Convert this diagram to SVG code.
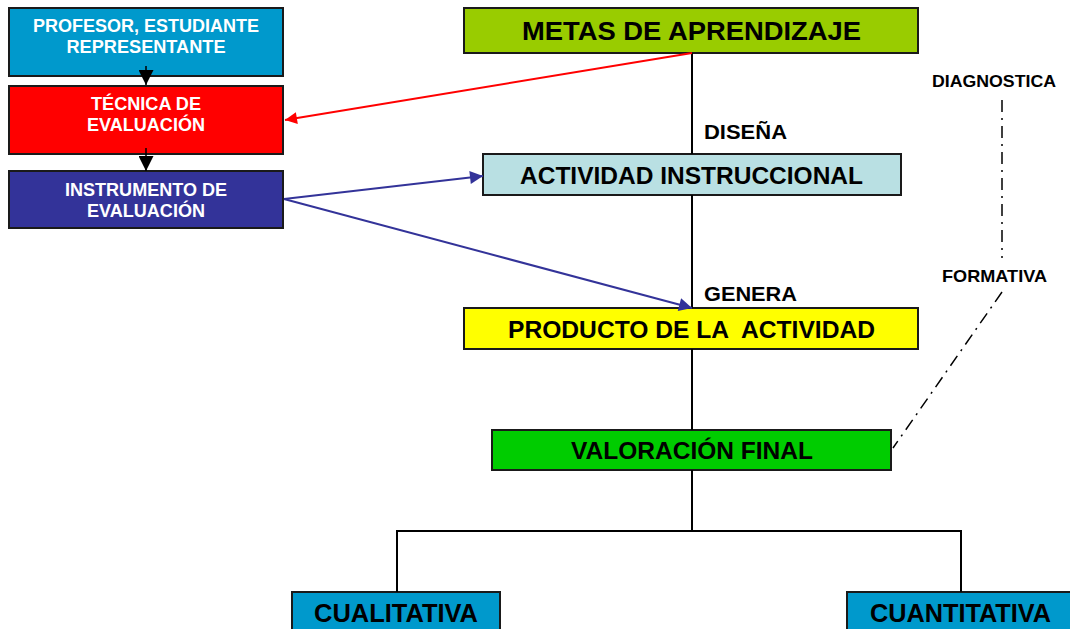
<svg xmlns="http://www.w3.org/2000/svg" width="1070" height="629" viewBox="0 0 1070 629">
<style>
.box{stroke:#1a1a1a;stroke-width:2}
.t{font-family:"Liberation Sans",Arial,sans-serif;font-weight:bold;text-anchor:middle}
.w{fill:#fff;font-size:19px}
.b{fill:#000}
.lbl{font-family:"Liberation Sans",Arial,sans-serif;font-weight:bold;fill:#000}
.ln{stroke:#000;stroke-width:2;fill:none}
.dd{stroke:#000;stroke-width:1.5;fill:none;stroke-dasharray:12,6,2,6}
</style>
<defs>
<marker id="ab" viewBox="0 0 10 10" refX="10" refY="5" markerWidth="15" markerHeight="15" markerUnits="userSpaceOnUse" orient="auto"><path d="M0,0L10,5L0,10z" fill="#000"/></marker>
<marker id="ar" viewBox="0 0 10 10" refX="10" refY="5" markerWidth="16" markerHeight="12" markerUnits="userSpaceOnUse" orient="auto"><path d="M0,0L10,5L0,10z" fill="#ff0000"/></marker>
<marker id="au" viewBox="0 0 10 10" refX="10" refY="5" markerWidth="17" markerHeight="13" markerUnits="userSpaceOnUse" orient="auto"><path d="M0,0L10,5L0,10z" fill="#333399"/></marker>
</defs>
<rect width="1070" height="629" fill="#fff"/>
<g id="profesor"><rect class="box" x="9" y="8" width="274" height="68" fill="#0099cc"/>
<text class="t w" x="146" y="32" textLength="226" lengthAdjust="spacingAndGlyphs">PROFESOR, ESTUDIANTE</text><text class="t w" x="146" y="53" textLength="159" lengthAdjust="spacingAndGlyphs">REPRESENTANTE</text></g>
<g id="tecnica"><rect class="box" x="9" y="86" width="274" height="68" fill="#ff0000"/>
<text class="t w" x="146" y="110" textLength="110" lengthAdjust="spacingAndGlyphs">TÉCNICA DE</text><text class="t w" x="146" y="131" textLength="118" lengthAdjust="spacingAndGlyphs">EVALUACIÓN</text></g>
<g id="instrumento"><rect class="box" x="9" y="171" width="274" height="57" fill="#333399"/>
<text class="t w" x="146" y="196" textLength="162" lengthAdjust="spacingAndGlyphs">INSTRUMENTO DE</text><text class="t w" x="146" y="217" textLength="118" lengthAdjust="spacingAndGlyphs">EVALUACIÓN</text></g>
<g id="metas"><rect class="box" x="464" y="8" width="454" height="45" fill="#99cc00"/>
<text class="t b" x="691.5" y="40" font-size="25.5" textLength="339" lengthAdjust="spacingAndGlyphs">METAS DE APRENDIZAJE</text></g>
<g id="actividad"><rect class="box" x="483" y="154" width="418" height="41" fill="#b9e0e3"/>
<text class="t b" x="691.5" y="184" font-size="24" textLength="343" lengthAdjust="spacingAndGlyphs">ACTIVIDAD INSTRUCCIONAL</text></g>
<g id="producto"><rect class="box" x="464" y="308" width="454" height="41" fill="#ffff00"/>
<text class="t b" x="691.5" y="338" font-size="24" textLength="367" lengthAdjust="spacingAndGlyphs" xml:space="preserve">PRODUCTO DE LA  ACTIVIDAD</text></g>
<g id="valoracion"><rect class="box" x="492" y="430" width="399" height="40" fill="#00cc00"/>
<text class="t b" x="692" y="459" font-size="24" textLength="242" lengthAdjust="spacingAndGlyphs">VALORACIÓN FINAL</text></g>
<g id="cualitativa"><rect class="box" x="292" y="592" width="208" height="45" fill="#0099cc"/>
<text class="t b" x="396" y="622" font-size="25" textLength="164" lengthAdjust="spacingAndGlyphs">CUALITATIVA</text></g>
<g id="cuantitativa"><rect class="box" x="847" y="592" width="230" height="45" fill="#0099cc"/>
<text class="t b" x="960.5" y="622" font-size="25" textLength="181" lengthAdjust="spacingAndGlyphs">CUANTITATIVA</text></g>
<g id="labels">
<text class="lbl" x="704" y="139" font-size="20" textLength="83" lengthAdjust="spacingAndGlyphs">DISEÑA</text>
<text class="lbl" x="704" y="301" font-size="20" textLength="93" lengthAdjust="spacingAndGlyphs">GENERA</text>
<text class="lbl" x="994" y="87" font-size="17" text-anchor="middle" textLength="124" lengthAdjust="spacingAndGlyphs">DIAGNOSTICA</text>
<text class="lbl" x="994.5" y="282" font-size="17" text-anchor="middle" textLength="105" lengthAdjust="spacingAndGlyphs">FORMATIVA</text>
</g>
<g id="connectors">
<line class="ln" x1="692" y1="53" x2="692" y2="154"/>
<line class="ln" x1="692" y1="195" x2="692" y2="308"/>
<line class="ln" x1="692" y1="349" x2="692" y2="430"/>
<polyline class="ln" points="692,470 692,531"/>
<polyline class="ln" points="397,592 397,531 961,531 961,592"/>
<line x1="146" y1="66" x2="146" y2="85" stroke="#000" stroke-width="1.5" marker-end="url(#ab)"/>
<line x1="146" y1="148" x2="146" y2="171" stroke="#000" stroke-width="1.5" marker-end="url(#ab)"/>
<line x1="692" y1="53" x2="285" y2="120" stroke="#ff0000" stroke-width="2" marker-end="url(#ar)"/>
<line x1="284" y1="199" x2="483" y2="176" stroke="#333399" stroke-width="2" marker-end="url(#au)"/>
<line x1="284" y1="199" x2="692" y2="308" stroke="#333399" stroke-width="2" marker-end="url(#au)"/>
<line class="dd" x1="1002" y1="100" x2="1002" y2="258"/>
<line class="dd" x1="1002" y1="292" x2="893" y2="448"/>
</g>
</svg>
